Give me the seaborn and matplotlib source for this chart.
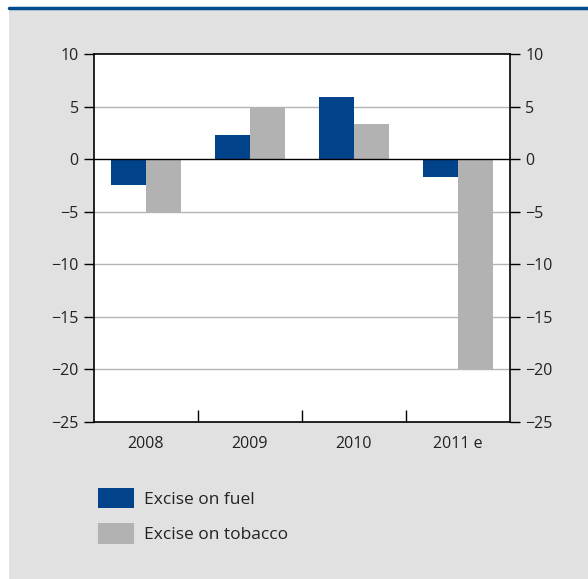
import matplotlib
matplotlib.use("Agg")
import matplotlib.pyplot as plt
import matplotlib.patches as mpatches
from matplotlib.ticker import FixedLocator
import pandas as pd
import seaborn as sns

# values
years = ["2008", "2009", "2010", "2011 e"]
fuel = [-2.5, 2.3, 5.9, -1.7]
tobacco = [-5.0, 4.9, 3.3, -20.0]
series_names = ["Excise on fuel", "Excise on tobacco"]
colors = ["#00438a", "#b2b2b2"]
y_ticks = [10, 5, 0, -5, -10, -15, -20, -25]

df = pd.DataFrame({
    "year": years * 2,
    "value": fuel + tobacco,
    "series": [series_names[0]] * len(years) + [series_names[1]] * len(years),
})

sns.set_style("white")
plt.rcParams["font.family"] = ["Open Sans", "DejaVu Sans"]

fig = plt.figure(figsize=(5.88, 5.79), dpi=100)
fig.patch.set_facecolor("white")
# grey panel and blue rule on top
fig.patches.append(mpatches.Rectangle((9 / 588, 0), 1, 1 - 9 / 579, transform=fig.transFigure,
                                      facecolor="#e1e1e1", edgecolor="none", zorder=-10))
fig.add_artist(plt.Line2D([9 / 588, 1], [1 - 8 / 579, 1 - 8 / 579], transform=fig.transFigure,
                          color="#004a8d", lw=2.5))

ax = fig.add_axes([94 / 588, 1 - 422 / 579, 416 / 588, 368 / 579])
ax.set_facecolor("white")

sns.barplot(data=df, x="year", y="value", hue="series", palette=colors,
            width=0.67, saturation=1, legend=False, ax=ax, zorder=3, linewidth=0)

ax.set_ylim(-25, 10)
ax.set_xlim(-0.5, 3.5)
ax.set_yticks(y_ticks)
ax.set_yticklabels([str(t).replace("-", "\u2212") for t in y_ticks])
for t in y_ticks:
    if t == 0:
        ax.axhline(0, color="black", lw=1, zorder=4)
    elif t not in (10, -25):
        ax.axhline(t, color="#b4b4b4", lw=1, zorder=1)

ax.tick_params(axis="y", which="major", direction="out", length=7, width=1, color="black",
               left=True, right=True, labelleft=True, labelright=True, labelsize=11.5, pad=4,
               labelcolor="#222222")
ax.tick_params(axis="x", which="major", length=0, labelsize=11.5, pad=10, labelcolor="#222222")
ax.xaxis.set_minor_locator(FixedLocator([0.5, 1.5, 2.5]))
ax.tick_params(axis="x", which="minor", direction="in", length=9, width=1, color="black", bottom=True)

for s in ax.spines.values():
    s.set_visible(True)
    s.set_color("black")
    s.set_linewidth(1.2)

ax.set_xlabel("")
ax.set_ylabel("")

handles = [mpatches.Patch(facecolor=c, edgecolor="none", label=n) for c, n in zip(colors, series_names)]
leg = fig.legend(handles=handles, loc="upper left", bbox_to_anchor=(82 / 588, 1 - 472 / 579),
                 frameon=False, fontsize=12.5, handlelength=2.1, handleheight=1.45,
                 handletextpad=0.6, labelspacing=0.85)
for txt in leg.get_texts():
    txt.set_color("#222222")

fig.savefig("out.png", dpi=100)
